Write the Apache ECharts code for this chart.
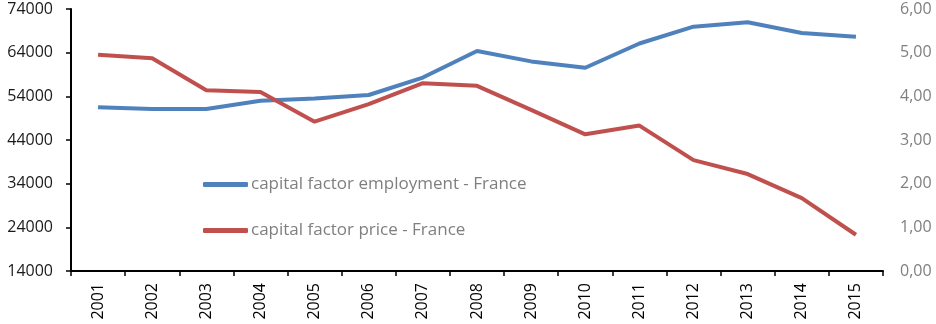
<!DOCTYPE html>
<html>
<head>
<meta charset="utf-8">
<script src="https://cdn.jsdelivr.net/npm/echarts@6/dist/echarts.min.js"></script>
<style>
  html, body { margin: 0; padding: 0; background: #fff; }
  #chart { width: 936px; height: 324px; }
</style>
</head>
<body>
<div id="chart"></div>
<script>
// Years on the category axis
const years = ['2001','2002','2003','2004','2005','2006','2007','2008','2009','2010','2011','2012','2013','2014','2015'];

// Capital factor employment (left axis)
const employment = [51500, 51100, 51100, 53000, 53500, 54300, 58300, 64400, 62000, 60550, 66100, 69950, 70950, 68500, 67650];

// Capital factor price (right axis)
const price = [4.95, 4.87, 4.14, 4.10, 3.42, 3.82, 4.30, 4.24, 3.69, 3.13, 3.33, 2.54, 2.22, 1.67, 0.83];

// Left-axis tick values
const leftTicks = [14000, 24000, 34000, 44000, 54000, 64000, 74000];

const seriesNames = ['capital factor employment - France', 'capital factor price - France'];

const FONT = 'Open Sans';

const chart = echarts.init(document.getElementById('chart'), null, { renderer: 'canvas' });

chart.setOption({
  animation: false,
  textStyle: { fontFamily: FONT },
  color: ['#4F81BD', '#C0504D'],
  grid: { left: 71, right: 53, top: 9, bottom: 53, containLabel: false },
  legend: {
    orient: 'vertical',
    left: 203,
    top: 176,
    padding: 0,
    itemWidth: 45,
    itemHeight: 5,
    itemGap: 29,
    icon: 'roundRect',
    textStyle: { fontFamily: FONT, fontSize: 17, color: '#7f7f7f', padding: [0, 0, 0, -2] },
    data: seriesNames
  },
  xAxis: {
    type: 'category',
    data: years,
    boundaryGap: true,
    axisLine: { lineStyle: { color: '#000', width: 2 } },
    axisTick: { show: true, length: 5, lineStyle: { color: '#000', width: 1.5 } },
    axisLabel: { rotate: 90, margin: 12, fontFamily: FONT, fontSize: 16, color: '#000', interval: 0 }
  },
  yAxis: [
    {
      type: 'value',
      min: 14000,
      max: 74000,
      position: 'left',
      splitLine: { show: false },
      axisLine: { show: true, lineStyle: { color: '#000', width: 2 } },
      axisTick: { show: true, length: 5, customValues: leftTicks, lineStyle: { color: '#000', width: 1.5 } },
      axisLabel: {
        customValues: leftTicks,
        margin: 18,
        fontFamily: FONT,
        fontSize: 16,
        color: '#1a1a1a',
        formatter: v => String(v)
      }
    },
    {
      type: 'value',
      min: 0,
      max: 6,
      interval: 1,
      position: 'right',
      splitLine: { show: false },
      axisLine: { show: false },
      axisTick: { show: false },
      axisLabel: {
        margin: 17,
        fontFamily: FONT,
        fontSize: 16,
        color: '#7f7f7f',
        formatter: v => v.toFixed(2).replace('.', ',')
      }
    }
  ],
  series: [
    {
      name: seriesNames[0],
      type: 'line',
      yAxisIndex: 0,
      data: employment,
      showSymbol: false,
      symbol: 'none',
      lineStyle: { width: 4, color: '#4F81BD' }
    },
    {
      name: seriesNames[1],
      type: 'line',
      yAxisIndex: 1,
      data: price,
      showSymbol: false,
      symbol: 'none',
      lineStyle: { width: 4, color: '#C0504D' }
    }
  ]
});
</script>
</body>
</html>
